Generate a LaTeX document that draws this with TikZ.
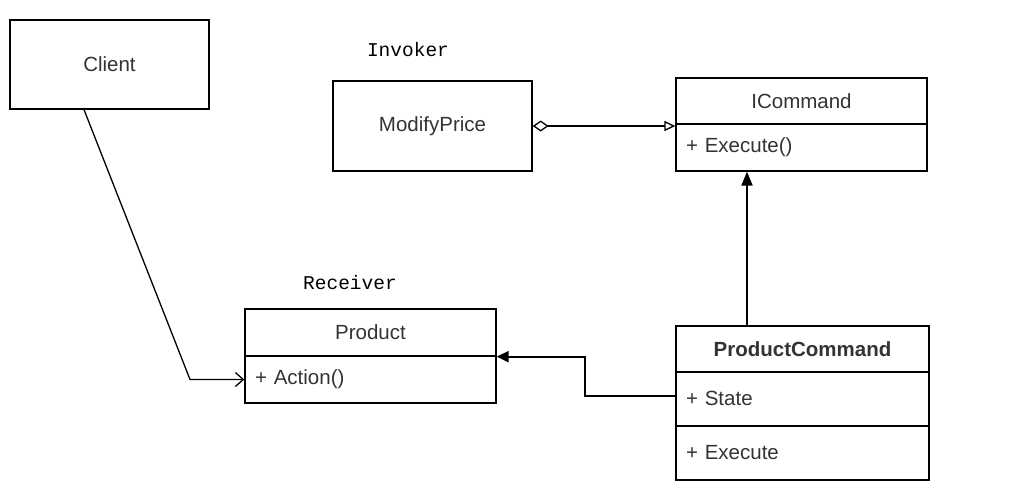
\documentclass[tikz,border=0pt]{standalone}
\usepackage{fontspec}
\setmainfont{Liberation Sans}
\newfontfamily\monof{Liberation Mono}
\usetikzlibrary{arrows.meta}
\definecolor{txt}{HTML}{333333}
\tikzset{
  box/.style={draw=black, line width=1.3pt, inner sep=0pt, text=txt, font=\fontsize{20.5}{23}\selectfont},
  member/.style={box, align=left, text width=#1},
  lbl/.style={inner sep=0pt, font=\monof\fontsize{19.5}{22}\selectfont, text=black},
  conn/.style={draw=black, line width=1.3pt},
  thick conn/.style={draw=black, line width=2pt}
}
\begin{document}
\begin{tikzpicture}[x=1pt,y=-1pt]
\useasboundingbox (0,0) rectangle (1009,493);
% Client
\node[box, minimum width=199pt, minimum height=89pt] (client) at (109.5,64.5) {\raisebox{-2pt}{Client}};
% Invoker
\node[lbl] (invlbl) at (408,50) {Invoker};
\node[box, minimum width=199pt, minimum height=90pt] (mp) at (432.5,126) {ModifyPrice};
% ICommand
\node[box, minimum width=251pt, minimum height=46pt] (ichead) at (801.5,101) {ICommand};
\node[member=231pt, minimum width=251pt, minimum height=47pt] (icbody) at (801.5,147.5) {\raisebox{-1.5pt}{+ Execute()}};
% Receiver
\node[lbl] (reclbl) at (350,283) {Receiver};
\node[box, minimum width=251pt, minimum height=47pt] (phead) at (370.5,332.5) {Product};
\node[member=231pt, minimum width=251pt, minimum height=47pt] (pbody) at (370.5,379.5) {+ Action()};
% ProductCommand
\node[box, minimum width=253pt, minimum height=46pt, font=\bfseries\fontsize{20.5}{23}\selectfont] (pchead) at (802.5,349) {\raisebox{-1.5pt}{ProductCommand}};
\node[member=233pt, minimum width=253pt, minimum height=54pt] (pcattr) at (802.5,399) {\raisebox{2pt}{+ State}};
\node[member=233pt, minimum width=253pt, minimum height=54pt] (pcmeth) at (802.5,453) {\raisebox{-3pt}{+ Execute}};
% connectors
\coordinate (bend) at (190,379.5);
\draw[conn, -{Straight Barb[length=8pt,width=14pt,line width=1.3pt]}]
  ([xshift=-25.5pt]client.south) -- (bend) -- (pbody.west);
\draw[conn, {Diamond[open,length=16pt,width=11pt]}-{Triangle[open,length=11pt,width=10pt]}]
  (mp.east) -- (mp.east -| ichead.west);
\draw[thick conn, -{Triangle[length=14pt,width=11pt]}]
  ([xshift=-55.5pt]pchead.north) -- ([xshift=-55.5pt]pchead.north |- icbody.south);
\draw[thick conn, -{Triangle[length=12pt,width=11pt]}]
  ([yshift=3pt]pcattr.west) -- ++(-90,0) |- (phead.south east);
\end{tikzpicture}
\end{document}
